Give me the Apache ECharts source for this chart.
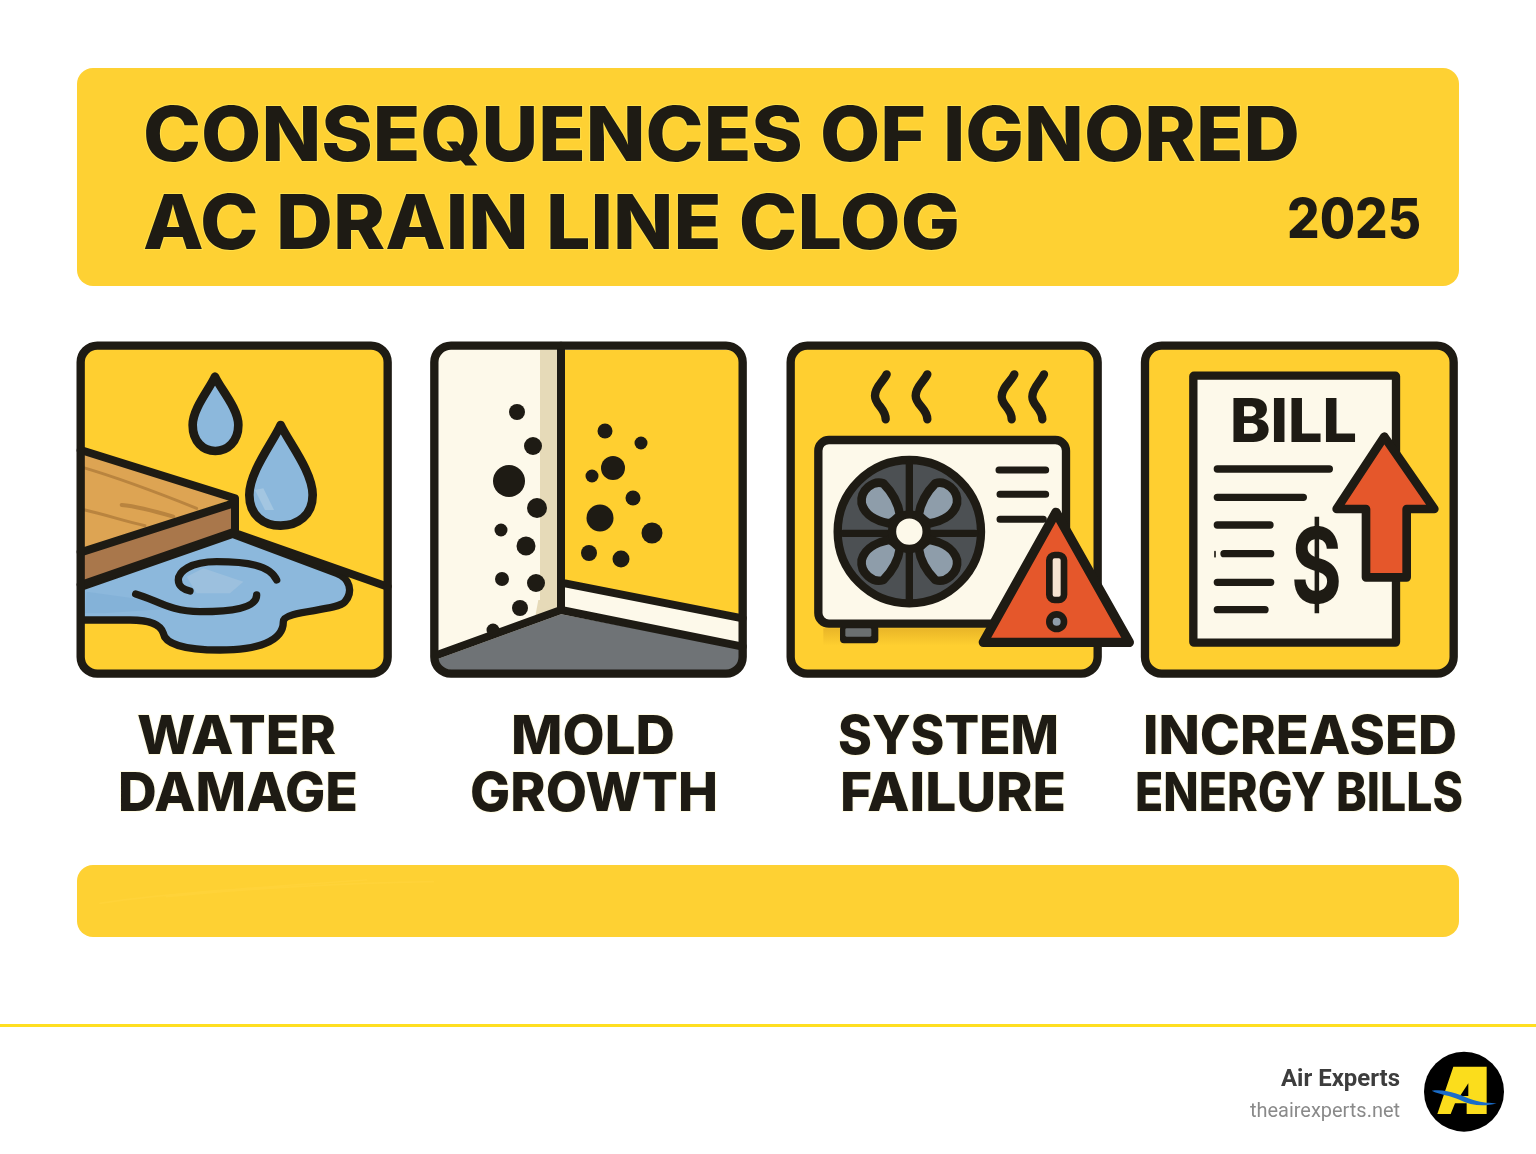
<!DOCTYPE html>
<html>
<head>
<meta charset="utf-8">
<title>Consequences of ignored AC drain line clog</title>
<style>
  html, body { margin: 0; background: #fff; }
  #main { width: 1536px; height: 1154px; }
</style>
</head>
<body>
<div id="main"></div>
<script src="https://cdn.jsdelivr.net/npm/echarts@6/dist/echarts.min.js"></script>
<script>
// text
var titleLines = ['CONSEQUENCES OF IGNORED', 'AC DRAIN LINE CLOG'];
var yearLabel = '2025';
var labelsTop = ['WATER', 'MOLD', 'SYSTEM', 'INCREASED'];
var labelsBottom = ['DAMAGE', 'GROWTH', 'FAILURE', 'ENERGY BILLS'];
var brandName = 'Air Experts';
var brandSite = 'theairexperts.net';

// mold spots: page x, page y, diameter
var moldSpots = [
  [517, 412, 16], [533, 446, 18], [509, 481, 32], [537, 508, 20], [501, 530, 13],
  [526, 546, 19], [502, 579, 14], [536, 583, 18], [520, 608, 16], [493, 630, 13],
  [605, 431, 15], [641, 443, 13], [613, 468, 24], [592, 476, 13], [633, 498, 15],
  [600, 518, 27], [652, 533, 21], [589, 553, 16], [621, 559, 17]
];

var YELLOW = '#FFCF30', INK = '#1E1B14', CREAM = '#FDF9EA', WATER = '#8CB8DC', RED = '#E5572B';

// canvas used to squeeze text to the reference width
var ruler = document.createElement('canvas').getContext('2d');

function fitText(text, left, right, cy, size, weight, family, color, halo) {
  ruler.font = weight + ' ' + size + 'px ' + family;
  var w = ruler.measureText(text).width;
  return {
    type: 'text', z: 20, x: left, y: cy, scaleX: (right - left) / w, originX: 0, originY: 0, silent: true,
    style: { text: text, x: 0, y: 0, fill: color || INK, fontFamily: family, fontSize: size, fontWeight: weight,
      align: 'left', verticalAlign: 'middle', stroke: halo || 'none', lineWidth: halo ? 2 : 0 }
  };
}

function p(d, fill, stroke, lw) {
  return {
    type: 'path', shape: { pathData: d },
    style: { fill: fill || 'none', stroke: stroke || 'none', lineWidth: lw || 0, lineJoin: 'round', lineCap: 'round' }
  };
}
function box(x, y, w, h, r, fill, stroke, lw) {
  return { type: 'rect', shape: { x: x, y: y, width: w, height: h, r: r },
    style: { fill: fill || 'none', stroke: stroke || 'none', lineWidth: lw || 0 } };
}
function dot(cx, cy, r, fill, stroke, lw) {
  return { type: 'circle', shape: { cx: cx, cy: cy, r: r },
    style: { fill: fill, stroke: stroke || 'none', lineWidth: lw || 0 } };
}
// panels are sketched at 3x, this puts them back on the page
function panel(x, y, children) {
  return { type: 'group', x: x, y: y, scaleX: 1 / 3, scaleY: 1 / 3, children: children };
}

function waterPanel() {
  return panel(70, 335, [
    box(32, 32, 921, 984, 50, YELLOW),
    // wood
    p('M40,358 L480,495 L40,645 Z', '#DDA453'),
    p('M40,398 C150,430 280,480 380,520', 'none', '#B9843F', 9),
    p('M155,510 C210,515 260,530 310,545', 'none', '#B9843F', 12),
    p('M45,525 C110,540 170,560 225,572', 'none', '#B9843F', 9),
    p('M40,655 L490,505 L490,590 L40,745 Z', '#A9774B'),
    // puddle
    p('M32,757 L488,598 L800,715 C840,730 850,770 825,800 C800,830 640,825 640,860 C640,920 560,945 450,945 C340,945 285,925 280,895 C270,860 220,855 180,855 L32,855 Z', WATER, INK, 22),
    p('M350,725 L400,700 L520,740 L480,775 L380,775 Z', '#9CC0DE'),
    p('M50,770 L190,790 L320,820 L100,835 L45,835 Z', '#84B2D8'),
    p('M620,735 C600,690 530,680 440,680 C360,680 325,710 325,735 C325,755 345,765 360,768', 'none', INK, 22),
    p('M197,777 C260,795 300,830 390,830 C480,830 560,820 560,780', 'none', INK, 22),
    // outlines
    p('M32,345 L495,490 L495,596 M32,652 L490,505 M32,750 L488,592 L953,755', 'none', INK, 24),
    // drops
    p('M435,125 C420,160 368,220 368,270 C368,320 400,348 436,348 C472,348 505,320 505,270 C505,220 450,160 435,125 Z', WATER, INK, 26),
    p('M632,270 C610,320 538,410 538,480 C538,540 580,572 632,572 C684,572 728,540 728,480 C728,410 655,320 632,270 Z', WATER, INK, 26),
    p('M555,465 L580,460 L612,525 L585,525 Z', '#A3C6E1'),
    box(32, 32, 921, 984, 50, 'none', INK, 25)
  ]);
}

function moldPanel() {
  return panel(425, 335, [
    box(28, 32, 925, 984, 50, CREAM),
    p('M345,45 L398,45 L398,822 L330,848 L340,795 L345,795 Z', '#E6DAB8'),
    p('M420,45 L905,45 Q945,45 945,85 L945,838 L420,738 Z', YELLOW),
    p('M38,972 L408,838 L945,940 L945,970 Q945,1005 905,1005 L75,1005 Q45,1005 38,972 Z', '#6F7376'),
    p('M408,32 L408,825 M30,962 L408,825 L953,935 M420,745 L953,850', 'none', INK, 24),
    box(28, 32, 925, 984, 50, 'none', INK, 25)
  ]);
}

function fanBlade() {
  return p('M245,505 C240,465 280,435 310,445 C335,470 355,505 360,540 C345,555 335,565 325,565 C300,560 255,545 245,505 Z', '#8E9DAA', INK, 26);
}

function failurePanel() {
  var blades = [[0, 0, 1, 1], [776, 0, -1, 1], [0, 1180, 1, -1], [776, 1180, -1, -1]].map(function (m) {
    return { type: 'group', x: m[0], y: m[1], scaleX: m[2], scaleY: m[3], children: [fanBlade()] };
  });
  var shadow = { type: 'linear', x: 0, y: 0, x2: 0, y2: 1, colorStops: [
    { offset: 0, color: '#E9B528' }, { offset: 1, color: YELLOW }
  ] };
  return panel(780, 335, [
    box(32, 32, 921, 984, 50, YELLOW),
    p('M320,118 C310,140 285,155 285,182 C285,210 317,220 317,253', 'none', INK, 25),
    p('M442,118 C432,140 407,155 407,182 C407,210 442,220 442,253', 'none', INK, 25),
    p('M703,118 C693,140 665,158 665,185 C665,212 695,220 695,253', 'none', INK, 25),
    p('M792,118 C782,140 757,158 757,185 C757,212 787,220 787,253', 'none', INK, 25),
    p('M130,880 L620,880 L620,932 L130,932 Z', shadow),
    box(180, 870, 115, 55, 12, INK),
    box(196, 880, 78, 25, 4, '#6B6F70'),
    box(115, 315, 743, 551, 32, CREAM, INK, 25),
    p('M657,405 L797,405 M660,478 L797,478 M660,553 L790,553', 'none', INK, 21),
    dot(388, 590, 215, '#4C5053', INK, 25),
    p('M388,385 L388,795 M190,595 L585,595', 'none', INK, 22),
    { type: 'group', children: blades },
    dot(388, 590, 52, CREAM, INK, 25),
    box(32, 32, 921, 984, 50, 'none', INK, 25),
    p('M828,532 L1048,922 L610,922 Z', RED, INK, 28),
    box(808, 660, 44, 135, 16, '#F6E4D2', INK, 20),
    dot(830, 860, 22, '#8E9DAA', INK, 20)
  ]);
}

function billPanel() {
  return panel(1135, 335, [
    box(30, 32, 926, 984, 50, YELLOW),
    box(175, 122, 608, 801, 2, CREAM, INK, 25),
    p('M247,402 L583,402 M247,487 L505,487 M247,570 L405,570 M267,656 L407,656 M247,742 L407,742 M247,824 L390,824', 'none', INK, 22),
    p('M240,650 L240,665', 'none', INK, 5),
    p('M748,305 L898,522 L815,522 L815,727 L693,727 L693,522 L605,522 Z', RED, INK, 26),
    box(30, 32, 926, 984, 50, 'none', INK, 25)
  ]);
}

function banners() {
  return [
    box(77, 68, 1382, 218, 16, '#FED133'),
    box(77, 865, 1382, 72, 16, '#FED133'),
    panel(0, 0, [
      p('M300,2710 C500,2680 800,2660 1100,2640 M500,2690 C700,2670 1000,2650 1300,2645', 'none', '#FFD339', 5)
    ]),
    box(0, 1024, 1536, 3, 0, '#FFDF20')
  ];
}

function logo() {
  return panel(1200, 1020, [
    dot(792, 215, 120, '#000'),
    p('M712,282 L760,140 L860,140 L860,282 L800,282 L800,250 L765,250 L752,282 Z', '#FBDD1C'),
    p('M780,228 L805,190 L805,228 Z', '#000'),
    p('M695,212 C740,205 780,225 820,240 C850,250 870,248 890,250 C850,262 810,255 780,240 C750,225 720,225 695,212 Z', '#1A6CC8')
  ]);
}

function renderPage(params, api) {
  var origin = api.coord([0, 0]);
  return {
    type: 'group', x: origin[0], y: origin[1],
    children: banners().concat([waterPanel(), moldPanel(), failurePanel(), billPanel(), logo()])
  };
}

var heavy = 'Inter';
var labelHalo = '#FFFBE3';
var texts = [
  fitText(titleLines[0], 143, 1300, 138, 76, 800, heavy, INK, '#FFE04A'),
  fitText(titleLines[1], 143, 960, 226, 76, 800, heavy, INK, '#FFE04A'),
  fitText(yearLabel, 1287, 1421, 221, 55, 800, heavy),
  fitText(labelsTop[0], 137, 336, 738, 54, 800, heavy, INK, labelHalo),
  fitText(labelsBottom[0], 118, 358, 795, 54, 800, heavy, INK, labelHalo),
  fitText(labelsTop[1], 511, 675, 738, 54, 800, heavy, INK, labelHalo),
  fitText(labelsBottom[1], 470, 718, 795, 54, 800, heavy, INK, labelHalo),
  fitText(labelsTop[2], 838, 1059, 738, 54, 800, heavy, INK, labelHalo),
  fitText(labelsBottom[2], 840, 1066, 795, 54, 800, heavy, INK, labelHalo),
  fitText(labelsTop[3], 1143, 1457, 738, 54, 800, heavy, INK, labelHalo),
  fitText(labelsBottom[3], 1135, 1463, 795, 54, 800, heavy, INK, labelHalo),
  fitText('BILL', 1230, 1357, 424, 60, 800, heavy),
  fitText('$', 1291, 1342, 572, 104, 700, heavy),
  fitText(brandName, 1281, 1400, 1080, 24, 700, 'Roboto', '#3D3D3D'),
  fitText(brandSite, 1250, 1400, 1112, 20, 400, 'Roboto', '#8A8A8A')
];

var myChart = echarts.init(document.getElementById('main'));
myChart.setOption({
  animation: false,
  backgroundColor: '#fff',
  grid: { left: 0, right: 0, top: 0, bottom: 0 },
  xAxis: { type: 'value', min: 0, max: 1536, show: false },
  yAxis: { type: 'value', min: 0, max: 1154, inverse: true, show: false },
  graphic: { elements: texts },
  series: [
    { type: 'custom', clip: false, silent: true, z: 1, data: [[0, 0]], renderItem: renderPage },
    {
      type: 'scatter', z: 5, silent: true, data: moldSpots,
      symbolSize: function (d) { return d[2]; },
      itemStyle: { color: INK, opacity: 1 }
    }
  ]
});
</script>
</body>
</html>
